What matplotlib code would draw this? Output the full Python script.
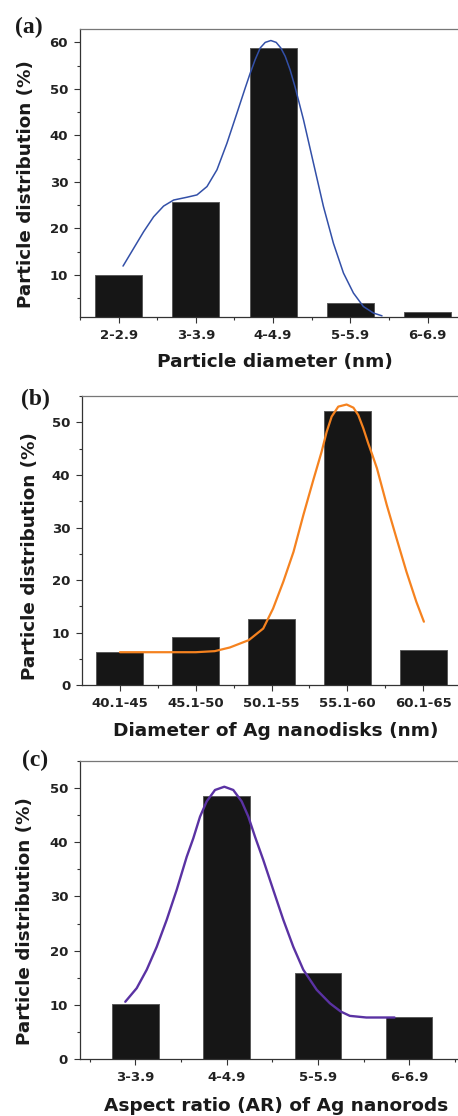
import matplotlib
matplotlib.use("Agg")
import matplotlib.pyplot as plt
from matplotlib.ticker import MultipleLocator, FixedLocator

# (a) particle diameter
a_labels = ['2-2.9', '3-3.9', '4-4.9', '5-5.9', '6-6.9']
a_vals = [10.0, 25.6, 58.9, 4.0, 2.0]
a_fit_x = [0.057, 0.194, 0.324, 0.453, 0.582, 0.712, 0.884, 1.014, 1.144, 1.273, 1.402,
           1.532, 1.639, 1.704, 1.768, 1.833, 1.898, 1.971, 2.040, 2.100, 2.157, 2.220,
           2.283, 2.393, 2.523, 2.652, 2.781, 2.911, 3.040, 3.169, 3.299, 3.410]
a_fit_y = [11.9, 15.7, 19.3, 22.5, 24.8, 26.1, 26.7, 27.2, 29.0, 32.6, 38.3,
           44.8, 50.2, 53.4, 56.3, 58.8, 60.0, 60.4, 60.0, 58.8, 57.0, 54.1,
           50.5, 43.4, 34.0, 24.7, 16.8, 10.4, 6.1, 3.2, 1.8, 1.2]

# (b) Ag nanodisks
b_labels = ['40.1-45', '45.1-50', '50.1-55', '55.1-60', '60.1-65']
b_vals = [6.4, 9.1, 12.7, 52.1, 6.7]
b_fit_x = [0.0, 0.5, 1.0, 1.25, 1.45, 1.70, 1.89, 2.02, 2.155, 2.29, 2.42, 2.55, 2.66,
           2.727, 2.793, 2.88, 2.99, 3.08, 3.144, 3.21, 3.276, 3.33, 3.39, 3.52, 3.65,
           3.78, 3.91, 4.01]
b_fit_y = [6.3, 6.3, 6.3, 6.5, 7.2, 8.6, 10.8, 14.6, 19.7, 25.4, 32.4, 39.0, 44.4,
           48.2, 51.1, 53.0, 53.4, 52.8, 51.4, 48.9, 46.0, 43.8, 41.3, 34.3, 27.9,
           21.6, 15.9, 12.1]

# (c) Ag nanorods aspect ratio
c_labels = ['3-3.9', '4-4.9', '5-5.9', '6-6.9']
c_vals = [10.1, 48.5, 15.9, 7.7]
c_fit_x = [-0.11, 0.015, 0.125, 0.234, 0.344, 0.453, 0.563, 0.635, 0.709, 0.782, 0.873,
           0.975, 1.073, 1.165, 1.238, 1.311, 1.402, 1.511, 1.621, 1.731, 1.840, 1.987,
           2.133, 2.25, 2.35, 2.53, 2.84]
c_fit_y = [10.6, 13.1, 16.5, 20.7, 25.7, 31.2, 37.3, 40.7, 44.7, 47.5, 49.6,
           50.2, 49.6, 47.5, 44.7, 41.0, 36.7, 31.2, 25.7, 20.7, 16.5, 12.8,
           10.3, 8.8, 8.0, 7.7, 7.7]

panels = [
    dict(tag='(a)', labels=a_labels, vals=a_vals, fx=a_fit_x, fy=a_fit_y, color='#3350a8', lw=1.1,
         rect=[0.1747, 0.7160, 0.8253, 0.2581], xlim=(-0.5, 4.394), ylim=(0.96, 62.9), width=0.61,
         xlabel='Particle diameter (nm)', xlab=(0.515, -0.125), ylab=(-0.119, 0.462),
         tagpos=(15, 27)),
    dict(tag='(b)', labels=b_labels, vals=b_vals, fx=b_fit_x, fy=b_fit_y, color='#f5821f', lw=1.6,
         rect=[0.1797, 0.3859, 0.8203, 0.2595], xlim=(-0.497, 4.46), ylim=(0, 55.07), width=0.62,
         xlabel='Diameter of Ag nanodisks (nm)', xlab=(0.516, -0.126), ylab=(-0.115, 0.446),
         tagpos=(21, 399)),
    dict(tag='(c)', labels=c_labels, vals=c_vals, fx=c_fit_x, fy=c_fit_y, color='#5a32a3', lw=1.7,
         rect=[0.1747, 0.0508, 0.8253, 0.2676], xlim=(-0.606, 3.535), ylim=(0, 55.0), width=0.51,
         xlabel='Aspect ratio (AR) of Ag nanorods', xlab=(0.519, -0.125), ylab=(-0.122, 0.463),
         tagpos=(22, 760)),
]

W, H = 458, 1116
fig = plt.figure(figsize=(W / 100, H / 100), dpi=100)

for p in panels:
    ax = fig.add_axes(p['rect'])
    pos = list(range(len(p['labels'])))
    ax.bar(pos, p['vals'], width=p['width'], color='#161616', edgecolor='#5a5a5a', linewidth=0.7, zorder=2)
    ax.plot(p['fx'], p['fy'], color=p['color'], lw=p['lw'], zorder=3,
            solid_joinstyle='round', solid_capstyle='round')

    ax.set_xlim(*p['xlim'])
    ax.set_ylim(*p['ylim'])
    ax.set_xticks(pos)
    ax.set_xticklabels(p['labels'])
    ax.xaxis.set_minor_locator(FixedLocator([i - 0.5 for i in range(len(pos) + 1)]))
    ax.yaxis.set_major_locator(MultipleLocator(10))
    ax.yaxis.set_minor_locator(MultipleLocator(5))

    ax.spines['right'].set_visible(False)
    ax.spines['top'].set_color('#777777')
    ax.spines['left'].set_color('#333333')
    ax.spines['bottom'].set_color('#333333')
    for s in ['top', 'left', 'bottom']:
        ax.spines[s].set_linewidth(0.9)

    ax.tick_params(which='major', length=4.6, width=0.8, color='#333333', pad=4)
    ax.tick_params(which='minor', length=2.4, width=0.8, color='#333333')
    ax.tick_params(axis='both', which='both', top=False, right=False)
    for lab in ax.get_xticklabels() + ax.get_yticklabels():
        lab.set_fontweight('bold')
        lab.set_fontsize(9.5)
        lab.set_color('#222222')

    ax.set_xlabel(p['xlabel'], fontsize=13.3, fontweight='bold', color='#1a1a1a')
    ax.set_ylabel('Particle distribution (%)', fontsize=13.2, fontweight='bold', color='#1a1a1a')
    ax.xaxis.set_label_coords(*p['xlab'])
    ax.yaxis.set_label_coords(*p['ylab'])

    tx, ty = p['tagpos']
    fig.text(tx / W, 1 - ty / H, p['tag'], family='Liberation Serif', fontweight='bold',
             fontsize=17, ha='left', va='center', color='#1a1a1a')

fig.savefig('out.png', dpi=100)
